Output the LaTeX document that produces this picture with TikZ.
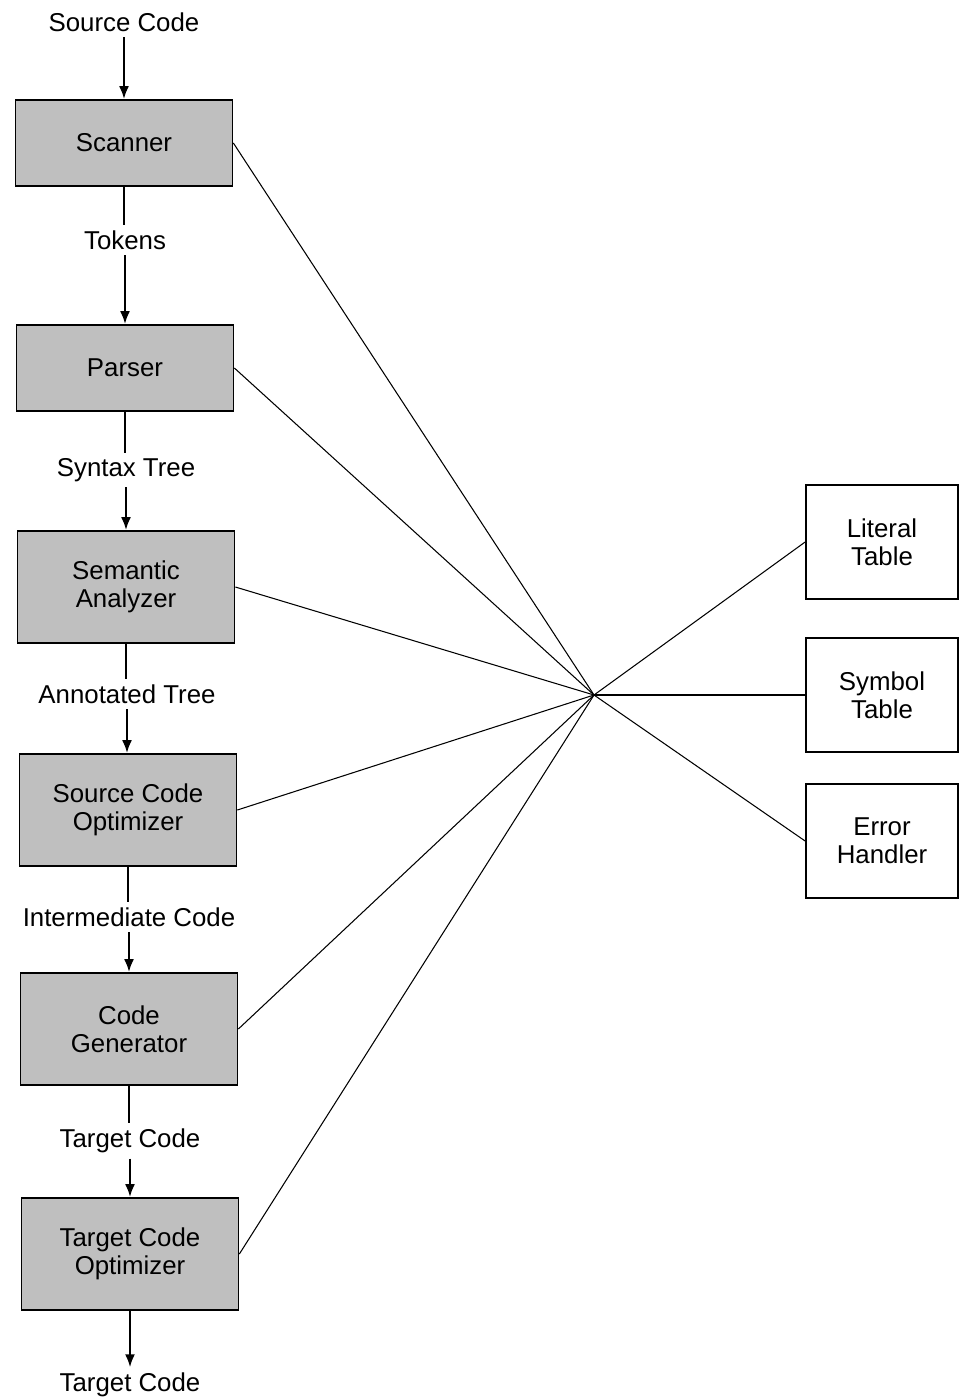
\documentclass[tikz,border=0pt]{standalone}
\usepackage{fontspec}
\setmainfont{Liberation Sans}
\usetikzlibrary{arrows.meta,positioning}

\begin{document}
\begin{tikzpicture}[
  x=0.02cm, y=-0.02cm,
  phase/.style={
    rectangle, draw, line width=1pt, fill=black!25,
    minimum width=4.34cm, align=center,
    font=\fontsize{14.7}{16}\selectfont
  },
  shortphase/.style={phase, minimum height=1.72cm},
  tallphase/.style={phase, minimum height=2.24cm},
  tablebox/.style={
    rectangle, draw, line width=1pt, fill=white,
    minimum width=3.04cm, minimum height=2.28cm, align=center,
    font=\fontsize{14.7}{16}\selectfont
  },
  lbl/.style={inner sep=3pt, font=\fontsize{14.7}{16}\selectfont},
  arr/.style={-{Latex[length=0.26cm,width=0.2cm]}, line width=1.3pt},
  plain/.style={line width=1.3pt},
  spoke/.style={line width=0.6pt}
]

\useasboundingbox (0,0) rectangle (960,1399);

\node[lbl] (src) at (124,22) {Source Code};
\node[shortphase] (scan) at (124,143) {Scanner};
\node[lbl] (tok) at (125,240) {Tokens};
\node[shortphase] (pars) at (125,368) {Parser};
\node[lbl] (stree) at (126,470) {Syntax Tree};
\node[tallphase] (sem) at (126,587) {Semantic\\Analyzer};
\node[lbl] (atree) at (127,694) {Annotated Tree};
\node[tallphase] (sco) at (128,810) {Source Code\\Optimizer};
\node[lbl] (icode) at (129,917) {Intermediate Code};
\node[tallphase] (cgen) at (129,1029) {Code\\Generator};
\node[lbl] (tcode) at (130,1141) {Target Code};
\node[tallphase] (tco) at (130,1254) {Target Code\\Optimizer};
\node[lbl] (out) at (130,1385) {Target Code};

\node[tablebox] (lit) at (882,542) {Literal\\Table};
\node[tablebox] (sym) at (882,695) {Symbol\\Table};
\node[tablebox] (err) at (882,841) {Error\\Handler};

\coordinate (hub) at (594,695);

\draw[arr] (src.south) -- (src.south |- scan.north);
\draw[plain] (scan.south) -- (scan.south |- tok.north);
\draw[arr] (tok.south) -- (tok.south |- pars.north);
\draw[plain] (pars.south) -- (pars.south |- stree.north);
\draw[arr] (stree.south) -- (stree.south |- sem.north);
\draw[plain] (sem.south) -- (sem.south |- atree.north);
\draw[arr] (atree.south) -- (atree.south |- sco.north);
\draw[plain] (sco.south) -- (sco.south |- icode.north);
\draw[arr] (icode.south) -- (icode.south |- cgen.north);
\draw[plain] (cgen.south) -- (cgen.south |- tcode.north);
\draw[arr] (tcode.south) -- (tcode.south |- tco.north);
\draw[arr] (tco.south) -- (tco.south |- out.north);

\draw[spoke] (scan.east) -- (hub);
\draw[spoke] (pars.east) -- (hub);
\draw[spoke] (sem.east) -- (hub);
\draw[spoke] (sco.east) -- (hub);
\draw[spoke] (cgen.east) -- (hub);
\draw[spoke] (tco.east) -- (hub);
\draw[spoke] (hub) -- (lit.west);
\draw[spoke] (hub) -- (sym.west);
\draw[spoke] (hub) -- (err.west);

\end{tikzpicture}
\end{document}
